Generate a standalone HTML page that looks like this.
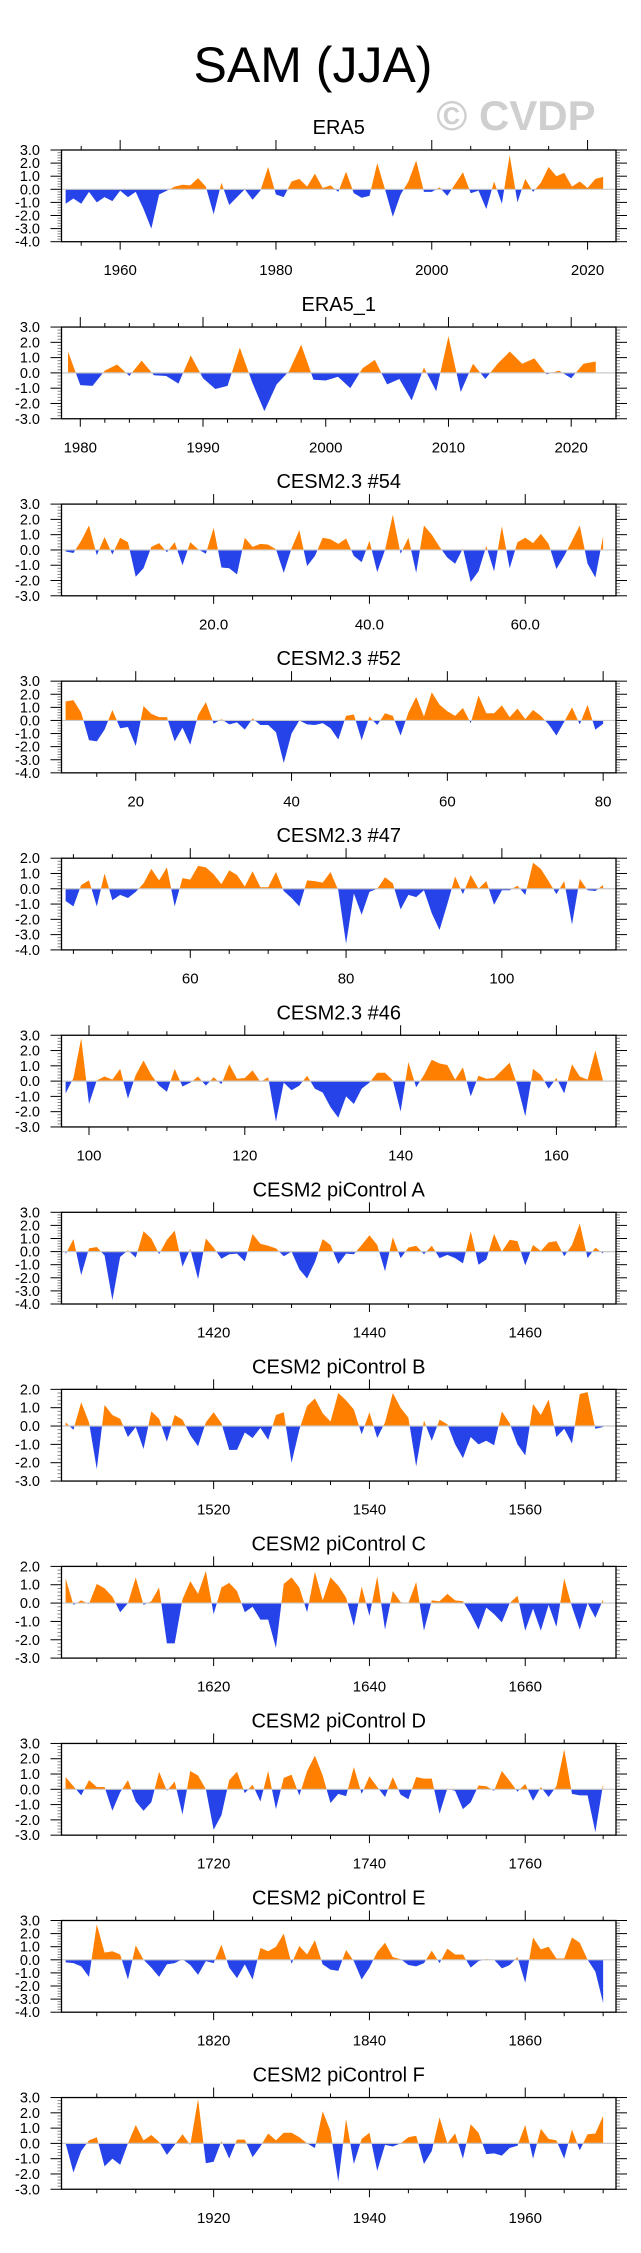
<!DOCTYPE html>
<html><head><meta charset="utf-8">
<style>
html,body{margin:0;padding:0;background:#fff;}
svg{display:block;font-family:"Liberation Sans",Arial,sans-serif;}
</style></head>
<body>
<svg id="chart" width="641" height="2253" viewBox="0 0 641 2253" xmlns="http://www.w3.org/2000/svg">
<text x="313" y="82" font-size="50" text-anchor="middle" fill="#000">SAM (JJA)</text>
<text x="516" y="130" font-size="42" font-weight="bold" text-anchor="middle" fill="#cfcfcf">© CVDP</text>
</svg>
<script>
const titles = ["ERA5","ERA5_1","CESM2.3 #54","CESM2.3 #52","CESM2.3 #47","CESM2.3 #46","CESM2 piControl A","CESM2 piControl B","CESM2 piControl C","CESM2 piControl D","CESM2 piControl E","CESM2 piControl F"];
const startYears = [1953,1979,1,11,44,97,1401,1501,1601,1701,1801,1901];
const yMaxs = [3,3,3,3,2,3,3,2,2,3,3,3];
const yMins = [-4,-3,-3,-4,-4,-3,-4,-3,-3,-3,-4,-3];
const xLabelSteps = [20,10,20,20,20,20,20,20,20,20,20,20];
const xMinorSteps = [5,2,5,5,5,5,5,5,5,5,5,5];
const xLabelDecimals = [0,0,1,0,0,0,0,0,0,0,0,0];

const era5 = [-1.1,-0.7,-1.1,-0.2,-1.0,-0.6,-0.9,-0.1,-0.6,-0.2,-1.5,-3.0,-0.4,-0.1,0.2,0.35,0.3,0.85,0.2,-1.9,0.5,-1.2,-0.6,0,-0.8,-0.1,1.7,-0.4,-0.6,0.6,0.8,0.2,1.2,0.1,0.3,-0.2,1.35,-0.3,-0.65,-0.5,2.0,0.0,-2.1,-0.4,0.6,2.2,-0.2,-0.2,0.15,-0.5,0.4,1.3,-0.3,-0.1,-1.5,0.6,-1.1,2.6,-1.0,0.8,-0.2,0.5,1.7,1.0,1.25,0.2,0.6,0.1,0.8,0.95];
const era5_1 = [1.4,-0.8,-0.85,0.15,0.55,-0.2,0.8,-0.15,-0.2,-0.7,1.15,-0.35,-1.05,-0.85,1.65,-0.6,-2.5,-0.75,0.1,1.85,-0.45,-0.5,-0.25,-1.0,0.3,0.85,-0.75,-0.4,-1.8,0.35,-1.2,2.4,-1.25,0.6,-0.4,0.6,1.4,0.6,0.95,-0.1,0.15,-0.35,0.6,0.75];
const cesm54 = [-0.1,-0.2,0.6,1.6,-0.35,0.85,-0.3,0.8,0.5,-1.75,-1.2,0.2,0.45,-0.15,0.5,-1.0,0.5,0.05,-0.25,1.45,-1.15,-1.2,-1.6,0.8,0.2,0.4,0.35,0.05,-1.5,0.1,1.3,-1.05,-0.4,0.8,0.7,0.4,0.75,-0.4,-0.8,0.6,-1.45,0.0,2.3,-0.25,0.8,-1.5,1.6,1.0,0.2,-0.5,-0.9,0.1,-2.1,-1.4,0.25,-1.4,1.55,-1.2,0.5,0.8,0.45,1.05,0.4,-1.25,-0.4,0.6,1.6,-0.9,-1.8,0.9];
const cesm52 = [1.45,1.55,0.6,-1.5,-1.6,-0.7,0.8,-0.6,-0.5,-1.95,1.1,0.5,0.25,0.25,-1.6,-0.55,-1.85,0.4,1.4,-0.25,0.1,-0.3,-0.15,-0.7,0.15,-0.35,-0.35,-0.9,-3.25,-1.0,0.0,-0.3,-0.35,-0.2,-0.6,-1.45,0.35,0.45,-1.5,0.3,-0.35,0.55,0.35,-1.15,0.6,1.8,0.3,2.15,1.2,0.7,0.35,0.95,-0.2,1.9,0.55,0.55,1.15,0.25,0.9,0.1,0.8,0.35,-0.3,-1.15,-0.1,1.0,-0.3,1.2,-0.7,-0.25];
const cesm47 = [-0.8,-1.15,0.25,0.55,-1.15,1.0,-0.75,-0.4,-0.6,-0.2,0.35,1.3,0.55,1.4,-1.15,0.7,0.6,1.5,1.4,0.95,0.3,1.2,0.9,0.15,1.15,0.1,0.1,1.1,-0.15,-0.6,-1.15,0.55,0.5,0.4,1.1,-0.1,-3.6,-0.3,-1.7,-0.2,0.0,0.75,0.35,-1.35,-0.4,-0.55,-0.1,-1.6,-2.7,-1.0,0.8,-0.35,0.9,0.0,0.5,-1.05,-0.1,-0.1,0.2,-0.4,1.7,1.3,0.5,-0.35,0.5,-2.35,0.65,-0.1,-0.15,0.25];
const cesm46 = [-0.8,0.2,2.8,-1.5,0.05,0.3,0.1,0.8,-1.15,0.4,1.35,0.4,-0.3,-0.7,0.8,-0.35,-0.1,0.3,-0.3,0.25,-0.2,1.1,0.15,0.2,0.7,-0.05,0.25,-2.65,-0.1,-0.6,-0.3,0.35,-0.5,-0.75,-1.7,-2.4,-1.0,-1.5,-0.5,-0.1,0.55,0.55,0.05,-2.0,1.25,-0.4,0.4,1.4,1.15,1.05,0.1,0.9,-1.0,0.35,0.15,0.2,0.7,1.2,-0.3,-2.3,0.8,0.4,-0.5,0.2,-0.8,1.1,0.3,0.1,2.0,0.0];
const piA = [-0.2,0.95,-1.8,0.25,0.35,-0.3,-3.7,-0.4,0.1,-0.45,1.55,1.0,-0.2,0.9,1.6,-1.15,0.2,-2.1,1.0,0.3,-0.55,-0.2,-0.15,-0.75,1.35,0.6,0.45,0.25,-0.35,0.0,-1.35,-2.05,-0.8,0.95,0.5,-0.95,-0.15,-0.2,0.5,1.25,0.5,-1.5,1.1,-0.5,0.3,0.45,-0.2,0.45,-0.5,-0.25,-0.5,-0.9,1.55,-1.0,-0.6,1.35,0.0,0.9,0.8,-1.05,0.5,0.05,0.7,0.8,-0.35,0.5,2.15,-0.5,0.3,-0.15];
const piB = [0.2,-0.2,1.3,0.2,-2.35,1.15,0.6,0.4,-0.6,-0.05,-1.25,0.8,0.4,-0.85,0.6,0.35,-0.5,-1.1,0.2,0.75,0.15,-1.3,-1.3,-0.35,-0.65,-0.1,-0.75,0.6,0.75,-2.0,-0.2,1.1,1.5,0.7,0.25,1.8,1.4,0.9,-0.45,0.75,-0.65,0.2,1.8,1.0,0.45,-2.2,0.3,-0.8,0.35,0.1,-1.0,-1.75,-0.6,-1.0,-0.8,-1.05,0.8,0.15,-1.0,-1.6,1.2,0.6,1.45,-0.6,-0.15,-0.95,1.75,1.85,-0.15,-0.05];
const piC = [1.35,-0.1,0.15,-0.05,1.05,0.8,0.35,-0.5,0.0,1.4,-0.1,0.1,0.85,-2.2,-2.2,0.2,1.2,0.5,1.75,-0.6,0.85,1.1,0.65,-0.5,-0.2,-0.9,-0.9,-2.45,1.05,1.4,0.85,-0.5,1.7,0.15,1.4,0.95,0.3,-1.25,0.9,-0.7,1.45,-1.45,0.65,0.05,0.0,1.15,-1.5,0.15,0.1,0.5,0.15,0.1,-0.6,-1.45,-0.25,-0.6,-1.05,0.0,0.4,-1.5,-0.3,-1.5,-0.1,-1.3,1.35,-0.2,-1.45,0.0,-0.8,0.2];
const piD = [0.8,0.2,-0.4,0.6,0.15,0.15,-1.4,-0.2,0.6,-0.8,-1.4,-0.85,1.15,-0.1,0.5,-1.65,1.2,0.9,0.0,-2.65,-1.7,0.6,1.15,-0.25,0.3,-0.8,1.2,-1.3,0.75,0.95,-0.4,1.2,2.2,0.9,-0.9,-0.3,-0.45,1.45,-0.3,0.85,0.15,-0.5,0.8,-0.35,-0.65,0.8,0.7,0.7,-1.6,0.05,-0.1,-1.3,-0.85,0.25,0.2,-0.1,1.2,0.55,-0.15,0.35,-0.75,0.15,-0.5,0.2,2.6,-0.3,-0.4,-0.4,-2.8,0.35];
const piE = [-0.2,-0.25,-0.5,-1.3,2.7,0.55,0.65,0.4,-1.5,1.1,0.0,-0.6,-1.3,-0.35,-0.25,0.05,-0.4,-1.15,-0.1,-0.25,1.15,-0.6,-1.4,-0.35,-1.5,0.9,0.65,1.0,2.0,-0.3,1.05,0.4,1.5,-0.35,-0.75,-0.85,0.75,-0.1,-1.5,-0.6,0.6,1.3,0.2,0.05,-0.4,-0.5,-0.25,0.7,-0.25,0.85,0.4,0.4,-0.6,-0.1,0.05,0.0,-0.65,-0.4,0.2,-1.75,1.7,0.8,1.0,0.1,0.1,1.7,1.3,0.0,-0.9,-3.3];
const piF = [0.0,-1.9,-0.5,0.2,0.4,-1.5,-1.0,-1.4,0,1.2,0.2,0.55,0.1,-0.75,-0.1,0.6,-0.1,2.9,-1.3,-1.2,0.15,-1.0,0.25,0.25,-0.9,-0.2,0.65,0.2,0.7,0.7,0.4,0,-0.3,2.1,0.8,-2.5,1.6,-1.35,0.3,0.7,-1.8,-0.1,-0.2,0,0.4,0.5,-1.35,-0.5,1.7,0.0,0.65,-1.0,1.25,0.7,-0.7,-0.65,-0.8,-0.3,-0.15,1.2,-1.0,0.95,0.3,0.2,-1.0,0.9,-0.45,0.6,0.65,1.8];

const seriesList = [era5,era5_1,cesm54,cesm52,cesm47,cesm46,piA,piB,piC,piD,piE,piF];

const NS = "http://www.w3.org/2000/svg";
const svg = document.getElementById("chart");
const BOX_L = 61.5, BOX_R = 616, BOX_H = 91.7, FIRST_TOP = 150, PANEL_STEP = 177.05;

function mk(tag, attrs, parent){
  const e = document.createElementNS(NS, tag);
  for (const k in attrs) e.setAttribute(k, attrs[k]);
  (parent||svg).appendChild(e);
  return e;
}

seriesList.forEach((vals, p) => {
  const top = FIRST_TOP + PANEL_STEP * p, bot = top + BOX_H;
  const first = startYears[p], last = first + vals.length - 1;
  const xmin = first - 0.53, xmax = last + 1.65;
  const ymax = yMaxs[p], ymin = yMins[p];
  const xs = t => BOX_L + (t - xmin) / (xmax - xmin) * (BOX_R - BOX_L);
  const ys = v => top + (ymax - v) / (ymax - ymin) * BOX_H;

  const g = mk("g", {});
  
  

  const title = mk("text", {x:(BOX_L+BOX_R)/2, y:top-16, "font-size":20, "text-anchor":"middle", fill:"#000"}, g);
  
  
  title.textContent = titles[p];

  const clipUp = mk("clipPath", {id:"cu"+p}, g);
  mk("rect", {x:BOX_L, y:top, width:BOX_R-BOX_L, height:ys(0)-top}, clipUp);
  const clipDn = mk("clipPath", {id:"cd"+p}, g);
  mk("rect", {x:BOX_L, y:ys(0), width:BOX_R-BOX_L, height:bot-ys(0)}, clipDn);

  let d = "M" + xs(first).toFixed(2) + "," + ys(0).toFixed(2);
  vals.forEach((v,i) => { d += " L" + xs(first+i).toFixed(2) + "," + ys(v).toFixed(2); });
  d += " L" + xs(last).toFixed(2) + "," + ys(0).toFixed(2) + " Z";
  const pos = mk("path", {d:d, fill:"#ff8000", "clip-path":"url(#cu"+p+")"}, g);
  
  
  const neg = mk("path", {d:d, fill:"#2643e9", "clip-path":"url(#cd"+p+")"}, g);
  
  

  const zl = mk("line", {x1:BOX_L, x2:BOX_R, y1:ys(0), y2:ys(0), stroke:"#c8c8c8", "stroke-width":1.2}, g);
  
  

  for (let v = ymin; v <= ymax + 1e-6; v += 0.2) {
    const vv = Math.round(v*10)/10;
    const major = Math.abs(vv - Math.round(vv)) < 1e-6;
    const y = ys(vv);
    const len = major ? 11 : 4;
    const col = major ? "#000" : "#888";
    mk("line", {x1:BOX_L-len, x2:BOX_L, y1:y, y2:y, stroke:col, "stroke-width":1}, g);
    mk("line", {x1:BOX_R, x2:BOX_R+len, y1:y, y2:y, stroke:col, "stroke-width":1}, g);
    if (major) {
      const t = mk("text", {x:40, y:y+5, "font-size":14.5, "text-anchor":"end", fill:"#000"}, g);
      
      
      t.textContent = vv.toFixed(1);
    }
  }
  const ms = xMinorSteps[p], ls = xLabelSteps[p];
  for (let t = Math.ceil(xmin/ms)*ms; t <= xmax; t += ms) {
    const x = xs(t);
    const major = t % ls === 0;
    mk("line", {x1:x, x2:x, y1:top-(major?10:4), y2:top, stroke:"#000", "stroke-width":1}, g);
    mk("line", {x1:x, x2:x, y1:bot, y2:bot+(major?8:4), stroke:"#000", "stroke-width":1}, g);
    if (major) {
      const tl = mk("text", {x:x, y:bot+33.5, "font-size":15, "text-anchor":"middle", fill:"#000"}, g);
      
      
      tl.textContent = t.toFixed(xLabelDecimals[p]);
    }
  }
  const box = mk("rect", {x:BOX_L, y:top, width:BOX_R-BOX_L, height:BOX_H, fill:"none", stroke:"#000", "stroke-width":1.3}, g);
  
  
});
</script>
</body></html>
